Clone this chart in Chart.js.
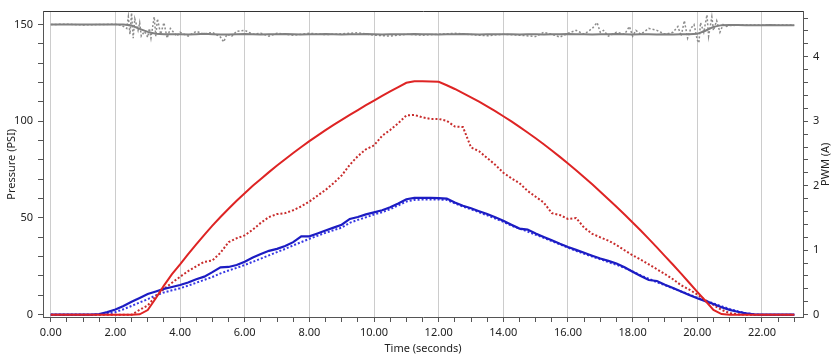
<!DOCTYPE html>
<html><head><meta charset="utf-8">
<script src="https://cdn.jsdelivr.net/npm/chart.js@4/dist/chart.umd.min.js"></script>
<style>html,body{margin:0;padding:0;background:#fff;}canvas{display:block;}</style>
</head><body>
<canvas id="c" width="837" height="359"></canvas>
<script>
// ---- data (time in seconds, 0.25 s step) ----
const times = [
  0,0.25,0.5,0.75, 1,1.25,1.5,1.75, 2,2.25,2.5,2.75, 3,3.25,3.5,3.75,
  4,4.25,4.5,4.75, 5,5.25,5.5,5.75, 6,6.25,6.5,6.75, 7,7.25,7.5,7.75,
  8,8.25,8.5,8.75, 9,9.25,9.5,9.75, 10,10.25,10.5,10.75, 11,11.25,11.5,11.75,
  12,12.25,12.5,12.75, 13,13.25,13.5,13.75, 14,14.25,14.5,14.75, 15,15.25,15.5,15.75,
  16,16.25,16.5,16.75, 17,17.25,17.5,17.75, 18,18.25,18.5,18.75, 19,19.25,19.5,19.75,
  20,20.25,20.5,20.75, 21,21.25,21.5,21.75, 22,22.25,22.5,22.75, 23
];
// Pressure (PSI)
const pressureActual = [
  0,0,0,0, 0,0,0,0, 0,0,0,0.2, 2.4,8.5,15,21,
  26,31.3,36.4,41.3, 46,50.5,54.8,58.9, 62.8,66.6,70.2,73.7, 77.1,80.4,83.6,86.7,
  89.7,92.6,95.4,98.1, 100.7,103.3,105.8,108.3, 110.7,113.1,115.4,117.7, 119.9,120.7,120.7,120.6,
  120.4,118.6,116.7,114.6, 112.4,110.1,107.7,105.2, 102.6,99.9,97.1,94.2, 91.2,88.1,84.9,81.6,
  78.2,74.7,71.1,67.4, 63.6,59.7,55.8,51.8, 47.7,43.5,39.2,34.8, 30.3,25.8,21.2,16.5,
  11.8,7.2,2.5,0.3, 0,0,0,0, 0,0,0,0, 0
];
const pressureMeasured = [
  0,0,0,0, 0,0,0,0, 0,0,0,2.5, 4.8,9.5,13.3,16.5,
  19.6,22.5,25,27.3, 28,32,37.5,39.5, 41,44,47.5,50.5, 52,52.5,54,56,
  58.5,61.5,64.5,68, 72,77.5,82,85.5, 87.5,92.5,95.5,99, 103,103.3,102,101.2,
  101.2,100.2,97.3,97, 86.5,84.5,81,77.5, 73.4,70.5,68,64, 61,58,52.5,51.5,
  49.5,50,45,41.8, 40,38.3,36,33.3, 30.7,28.5,26,23.5, 21,18.3,15.2,13,
  10.5,7.5,5,2.5, 0.8,0.2,0,0, 0,0,0,0, 0
];
const supplyPressure = [
  150,150,150,150, 150,150,150,150, 150,150,149.5,147.8, 146.2,145.2,145,145,
  145,144.8,145,145.2, 145,144.8,144.9,145, 145.1,145,144.8,145, 145,145.1,145,144.9,
  145,145,145.1,145, 144.9,145,145,145.1, 145,144.9,145,145, 145,145.1,145,145,
  144.9,145,145,145.1, 145,144.9,145,145, 145,145,144.9,145, 145,144.8,145,145,
  145.1,145,145,144.9, 145,145,145.1,145, 144.9,145,145,144.9, 145,144.9,145,145,
  145.2,146.8,148.8,149.7, 149.8,149.8,149.7,149.7, 149.7,149.8,149.7,149.7, 149.7
];
const supplyTimes = [
  0,0.5,1,1.5,2,2.2,2.35,2.4,2.45,2.5,2.55,2.6,2.7,2.75,2.8,2.9,3,3.05,3.1,3.2,3.25,3.3,3.4,3.5,
  3.6,3.7,3.8,3.9,4,4.25,4.5,4.75,5,5.25,5.35,5.45,5.6,5.75,6,6.25,6.5,6.75,7,7.5,8,8.5,9,9.5,
  10,10.5,11,11.5,12,12.5,13,13.5,14,14.5,15,15.25,15.5,15.75,16,16.25,16.5,16.75,16.9,17,17.1,
  17.25,17.5,17.75,17.9,18,18.1,18.25,18.5,18.75,19,19.25,19.4,19.5,19.6,19.7,19.8,19.9,20,20.05,
  20.1,20.2,20.3,20.35,20.45,20.5,20.6,20.7,20.8,20.9,21,21.5,22,22.5,23
];
const supplyRaw = [
  150,150.2,149.8,150,150.2,149.5,148,154,145,156,143,153,147,151,144,146.5,143.5,148,143,154,144,153,145,151,
  143,148,146,144,146,144,146.5,145,146,143.5,141,145,144,146.5,147,145,145.5,144,145.5,144.5,145.5,144.8,145.2,145.8,
  144.5,144,145,144.5,145,145.5,144.8,144.2,145,144.5,143.8,146,145,143.5,145.5,147,145,148,151,146,147,
  144,146,145,149,144,147,145,148,147,145,146,149,144,152,143,148,150,142,140.5,
  151,146,155,144,154,147,152,146,150,149,149.5,149.8,149.7,149.8,149.7
];
// PWM (A)
const pwmCommand = [
  0,0,0,0, 0,0,0.01,0.04, 0.08,0.135,0.2,0.26, 0.32,0.36,0.40,0.43,
  0.46,0.50,0.55,0.59, 0.66,0.735,0.74,0.77, 0.82,0.885,0.94,0.99, 1.02,1.065,1.125,1.215,
  1.215,1.26,1.305,1.35, 1.395,1.485,1.515,1.555, 1.587,1.62,1.665,1.725, 1.79,1.81,1.81,1.81,
  1.806,1.80,1.74,1.69, 1.65,1.605,1.56,1.51, 1.458,1.395,1.335,1.32, 1.26,1.206,1.155,1.10,
  1.05,1.005,0.96,0.915, 0.87,0.834,0.795,0.735, 0.666,0.60,0.537,0.522, 0.465,0.414,0.36,0.306,
  0.255,0.21,0.165,0.114, 0.075,0.045,0.021,0.006, 0,0,0,0, 0
];
const pwmMeasured = [
  0,0,0,0, 0,0,0,0.015, 0.04,0.085,0.135,0.19, 0.24,0.30,0.345,0.378,
  0.41,0.45,0.495,0.54, 0.585,0.64,0.685,0.726, 0.77,0.82,0.87,0.92, 0.97,1.02,1.075,1.125,
  1.176,1.224,1.27,1.31, 1.35,1.425,1.47,1.51, 1.554,1.59,1.635,1.695, 1.755,1.78,1.785,1.785,
  1.785,1.78,1.725,1.675, 1.635,1.59,1.54,1.49, 1.44,1.38,1.335,1.29, 1.24,1.19,1.14,1.09,
  1.04,0.99,0.945,0.90, 0.86,0.816,0.774,0.726, 0.67,0.61,0.555,0.504, 0.456,0.408,0.36,0.312,
  0.264,0.22,0.174,0.13, 0.09,0.054,0.024,0.006, 0,0,0,0, 0
];
// ---- axes ----
const xTicks = [0,0.5,1,1.5,2,2.5,3,3.5,4,4.5,5,5.5,6,6.5,7,7.5,8,8.5,9,9.5,10,10.5,11,11.5,
  12,12.5,13,13.5,14,14.5,15,15.5,16,16.5,17,17.5,18,18.5,19,19.5,20,20.5,21,21.5,22,22.5,23];
const yTicks = [0,10,20,30,40,50,60,70,80,90,100,110,120,130,140,150];
const y1Ticks = [0,0.2,0.4,0.6,0.8,1,1.2,1.4,1.6,1.8,2,2.2,2.4,2.6,2.8,3,3.2,3.4,3.6,3.8,4,4.2,4.4,4.6];
const xTitle = 'Time (seconds)';
const yTitle = 'Pressure (PSI)';
const y1Title = 'PWM (A)';

const FONT = "'Noto Sans', 'Open Sans', sans-serif";
Chart.defaults.font.family = FONT;
Chart.defaults.font.size = 11;
Chart.defaults.color = '#222';

const pts = (ts, vs) => ts.map((t, i) => ({x: t, y: vs[i]}));
const isMult = (v, m) => Math.abs(v / m - Math.round(v / m)) < 1e-6;
const AXIS = '#555';

const rightTitle = {
  id: 'rightTitle',
  afterDraw(chart) {
    const ctx = chart.ctx, a = chart.chartArea;
    ctx.save();
    ctx.font = '11px ' + FONT;
    ctx.fillStyle = '#222';
    ctx.textAlign = 'center';
    ctx.textBaseline = 'middle';
    ctx.translate(826, (a.top + a.bottom) / 2);
    ctx.rotate(-Math.PI / 2);
    ctx.fillText(y1Title, 0, 0);
    ctx.restore();
  }
};

new Chart(document.getElementById('c'), {
  type: 'line',
  data: {
    datasets: [
      {label: 'Pressure', data: pts(times, pressureActual), yAxisID: 'y', borderColor: 'rgb(222,36,36)', borderWidth: 2},
      {label: 'PWM', data: pts(times, pwmCommand), yAxisID: 'y1', borderColor: 'rgb(28,28,195)', borderWidth: 2.2},
      {label: 'Supply', data: pts(times, supplyPressure), yAxisID: 'y', borderColor: 'rgb(128,128,128)', borderWidth: 2},
      {label: 'Pressure meas', data: pts(times, pressureMeasured), yAxisID: 'y', borderColor: 'rgb(200,44,44)', borderWidth: 2, borderDash: [2, 2]},
      {label: 'PWM meas', data: pts(times, pwmMeasured), yAxisID: 'y1', borderColor: 'rgb(55,55,228)', borderWidth: 2, borderDash: [2, 2]},
      {label: 'Supply raw', data: pts(supplyTimes, supplyRaw), yAxisID: 'y', borderColor: 'rgb(140,140,140)', borderWidth: 1.5, borderDash: [2, 2]}
    ]
  },
  options: {
    responsive: false,
    animation: false,
    devicePixelRatio: 1,
    layout: {padding: 0},
    plugins: {legend: {display: false}, tooltip: {enabled: false}},
    elements: {point: {radius: 0}, line: {tension: 0, borderCapStyle: 'butt'}},
    scales: {
      x: {
        type: 'linear', position: 'bottom', min: -0.24, max: 23.27,
        afterBuildTicks: s => { s.ticks = xTicks.map(v => ({value: v})); },
        afterFit: s => { s.height = 42; },
        ticks: {autoSkip: false, maxRotation: 0, padding: 4, callback: v => isMult(v, 2) ? v.toFixed(2) : ''},
        grid: {
          color: c => (c.tick && isMult(c.tick.value, 2)) ? '#cccccc' : 'rgba(0,0,0,0)',
          tickColor: AXIS, tickLength: 5, lineWidth: 1, drawOnChartArea: true
        },
        border: {display: true, color: AXIS, width: 1},
        title: {display: true, text: xTitle, padding: {top: 0, bottom: 4}}
      },
      x2: {
        type: 'linear', position: 'top', min: -0.24, max: 23.27,
        afterFit: s => { s.height = 9; },
        ticks: {display: false},
        grid: {display: false, drawTicks: false},
        border: {display: true, color: '#333', width: 1}
      },
      y: {
        type: 'linear', position: 'left', min: -1.2, max: 156.7,
        afterBuildTicks: s => { s.ticks = yTicks.map(v => ({value: v})); },
        afterFit: s => { s.width = 43; },
        ticks: {autoSkip: false, padding: 5, callback: v => isMult(v, 50) ? String(v) : ''},
        grid: {drawOnChartArea: false, tickLength: 5, tickColor: AXIS},
        border: {display: true, color: AXIS, width: 1},
        title: {display: true, text: yTitle, padding: {top: 5, bottom: 0}}
      },
      y1: {
        type: 'linear', position: 'right', min: -0.036, max: 4.7,
        afterBuildTicks: s => { s.ticks = y1Ticks.map(v => ({value: v})); },
        afterFit: s => { s.width = 34; },
        ticks: {autoSkip: false, padding: 5, callback: v => isMult(v, 1) ? String(Math.round(v)) : ''},
        grid: {drawOnChartArea: false, tickLength: 5, tickColor: AXIS},
        border: {display: true, color: AXIS, width: 1},
        title: {display: false}
      }
    }
  },
  plugins: [rightTitle]
});
</script>
</body></html>
